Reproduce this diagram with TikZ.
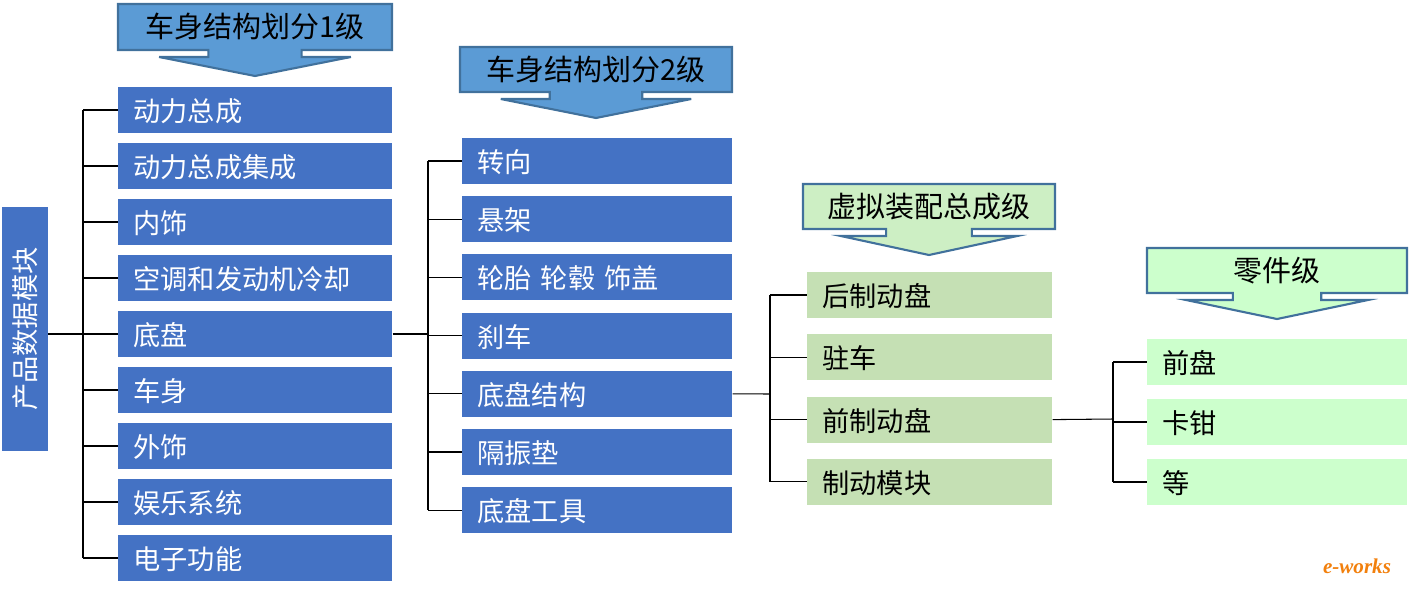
\documentclass[tikz,border=0pt]{standalone}
\usepackage{fontspec}
\setmainfont{Noto Sans CJK SC}
\newfontfamily\logofont{Liberation Serif}
\usetikzlibrary{positioning,calc}
\definecolor{boxblue}{HTML}{4472C4}
\definecolor{headblue}{HTML}{5B9BD5}
\definecolor{edgeblue}{HTML}{41719C}
\definecolor{boxgreen}{HTML}{C5E0B4}
\definecolor{headgreen}{HTML}{CDEFC4}
\definecolor{partgreen}{HTML}{CCFFCC}
% header box with arrow below: x1,y1,x2,y2 (pixel units)
\newcommand{\calloutpath}[4]{%
  (#1,#2) -- (#3,#2) -- (#3,#4)
  -- ({(#1+#3)/2+0.17*(#3-#1)},#4) -- ({(#1+#3)/2+0.17*(#3-#1)},#4+7)
  -- ({(#1+#3)/2+0.35*(#3-#1)},#4+7) -- ({(#1+#3)/2},#4+26)
  -- ({(#1+#3)/2-0.35*(#3-#1)},#4+7) -- ({(#1+#3)/2-0.17*(#3-#1)},#4+7)
  -- ({(#1+#3)/2-0.17*(#3-#1)},#4) -- (#1,#4) -- cycle}
\begin{document}
\begin{tikzpicture}[
  x=0.02cm, y=-0.02cm,
  font=\fontsize{15.5}{17}\selectfont,
  item/.style={anchor=west, minimum height=0.92cm, inner sep=0pt, text depth=0pt},
  level1/.style={item, fill=boxblue, text=white, text width=4.88cm, inner xsep=0.3cm},
  level2/.style={item, fill=boxblue, text=white, text width=4.8cm, inner xsep=0.3cm},
  level3/.style={item, fill=boxgreen, text width=4.3cm, inner xsep=0.3cm},
  level4/.style={item, fill=partgreen, text width=4.6cm, inner xsep=0.3cm},
  head/.style={draw=edgeblue, line width=1.2pt},
  headtext/.style={font=\fontsize{16.5}{18}\selectfont},
  link/.style={draw=black, line width=0.6pt}
]
\useasboundingbox (0,0) rectangle (1409,589);

% root
\node[fill=boxblue, text=white, minimum width=4.88cm, minimum height=0.92cm, inner sep=0pt,
  rotate=90] (root) at (25,329) {产品数据模块};

% headers
\filldraw[head, fill=headblue] \calloutpath{118}{4}{392}{50};
\node[headtext] (head1) at (255,27) {车身结构划分1级};
\filldraw[head, fill=headblue] \calloutpath{460}{47}{732}{92};
\node[headtext] (head2) at (596,70) {车身结构划分2级};
\filldraw[head, fill=headgreen] \calloutpath{803}{184}{1055}{229};
\node[headtext] (head3) at (929,207) {虚拟装配总成级};
\filldraw[head, fill=partgreen] \calloutpath{1147}{248}{1407}{293};
\node[headtext] (head4) at (1277,271) {零件级};

% level 1
\foreach \name/\txt [count=\i] in {a/动力总成, b/动力总成集成, c/内饰, d/空调和发动机冷却,
  e/底盘, f/车身, g/外饰, h/娱乐系统, k/电子功能}
  \node[level1] (one\name) at (118,{110+56*(\i-1)}) {\txt};

% level 2
\foreach \name/\txt [count=\i] in {a/转向, b/悬架, c/轮胎 轮毂 饰盖, d/刹车,
  e/底盘结构, f/隔振垫, g/底盘工具}
  \node[level2] (two\name) at (462,{161+58.2*(\i-1)}) {\txt};

% level 3
\foreach \name/\txt [count=\i] in {a/后制动盘, b/驻车, c/前制动盘, d/制动模块}
  \node[level3] (three\name) at (807,{295+62.3*(\i-1)}) {\txt};

% level 4
\foreach \name/\txt [count=\i] in {a/前盘, b/卡钳, c/等}
  \node[level4] (four\name) at (1147,{362+60*(\i-1)}) {\txt};

% brackets
\coordinate (j1) at (83,334);
\draw[link] (root.south |- j1) -- (j1);
\draw[link] (onea.west -| j1) -- (onek.west -| j1);
\foreach \name in {a,b,c,d,e,f,g,h,k}
  \draw[link] (one\name.west -| j1) -- (one\name.west);

\coordinate (j2) at (428,334);
\draw[link] (onee.east) -- (j2);
\draw[link] (twoa.west -| j2) -- (twog.west -| j2);
\foreach \name in {a,b,c,d,e,f,g}
  \draw[link] (two\name.west -| j2) -- (two\name.west);

\coordinate (j3) at (770,394);
\draw[link] (twoe.east) -- (j3);
\draw[link] (threea.west -| j3) -- (threed.west -| j3);
\foreach \name in {a,b,c,d}
  \draw[link] (three\name.west -| j3) -- (three\name.west);

\coordinate (j4) at (1113,419);
\draw[link] (threec.east) -- (j4);
\draw[link] (foura.west -| j4) -- (fourc.west -| j4);
\foreach \name in {a,b,c}
  \draw[link] (four\name.west -| j4) -- (four\name.west);

% logo
\node[text=orange!80!brown, font=\logofont\bfseries\itshape\large] (logo) at (1357,566) {e-works};
\end{tikzpicture}
\end{document}
